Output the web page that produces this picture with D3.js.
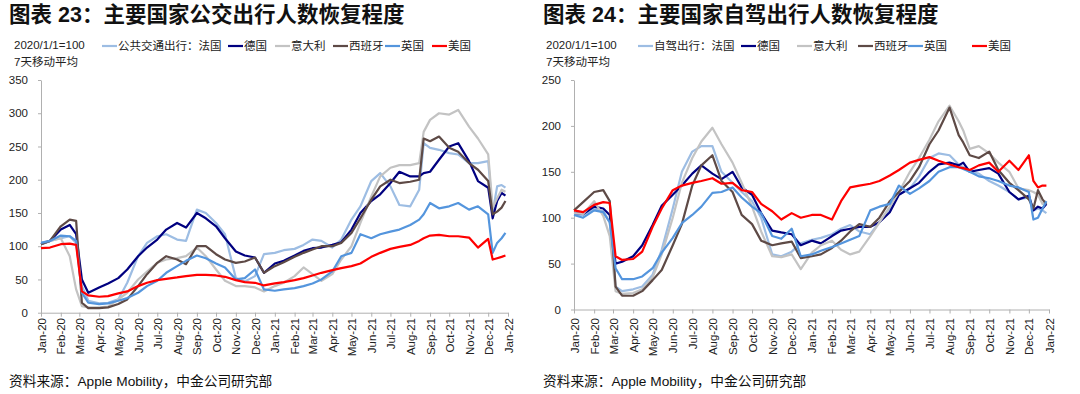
<!DOCTYPE html>
<html>
<head>
<meta charset="utf-8">
<script src="https://cdn.jsdelivr.net/npm/d3@7"></script>
<style>
body { margin: 0; background: #fff; }
svg { display: block; font-family: "Liberation Sans", Arial, "Noto Sans CJK SC", sans-serif; }
</style>
</head>
<body>
<svg></svg>
<script>
// shared sample dates (roughly twice a month)
var dates = ["2020-01-01","2020-01-15","2020-02-01","2020-02-15","2020-02-25","2020-03-05","2020-03-15",
  "2020-04-01","2020-04-15","2020-05-01","2020-05-15","2020-06-01","2020-06-15","2020-07-01","2020-07-15",
  "2020-08-01","2020-08-15","2020-09-01","2020-09-15","2020-10-01","2020-10-15","2020-11-01","2020-11-15",
  "2020-12-01","2020-12-15","2021-01-01","2021-01-15","2021-02-01","2021-02-15","2021-03-01","2021-03-15",
  "2021-04-01","2021-04-15","2021-05-01","2021-05-15","2021-06-01","2021-06-15","2021-07-01","2021-07-15",
  "2021-08-01","2021-08-15","2021-08-22","2021-09-01","2021-09-15","2021-10-01","2021-10-15","2021-11-01",
  "2021-11-15","2021-12-01","2021-12-08","2021-12-15","2021-12-22","2021-12-28"];

var countries = ["法国", "德国", "意大利", "西班牙", "英国", "美国"];
var colors = ["#9dbde3", "#000080", "#c3c3c3", "#5e4a46", "#5495dd", "#ff0000"];

// 图表23 公交出行
var busFrance  = [105,108,112,115,105,40,18,14,15,20,45,85,105,115,118,110,108,155,150,135,118,52,47,55,88,90,94,96,102,110,108,98,110,140,160,198,210,190,162,160,185,255,248,245,240,238,225,225,228,150,190,192,188];
var busGermany = [103,108,125,132,118,50,30,38,44,52,65,85,98,110,125,135,128,150,142,130,112,92,86,83,60,74,78,86,93,97,98,102,106,125,150,168,178,195,212,205,205,210,212,230,250,255,228,198,188,142,168,180,176];
var busItaly   = [103,108,112,85,35,10,8,8,9,20,30,50,62,75,80,82,85,98,85,65,48,40,40,38,32,40,45,55,68,58,48,58,80,100,135,175,205,218,222,222,225,272,290,300,298,305,280,262,238,158,172,185,182];
var busSpain   = [103,108,130,140,138,15,7,7,8,13,20,40,58,75,85,80,73,100,100,88,80,75,77,83,60,70,76,84,90,95,100,100,105,120,142,170,190,200,195,197,200,262,258,265,248,242,225,215,198,148,152,158,168];
var busUK      = [105,108,116,115,108,30,15,13,14,18,22,30,40,48,60,70,78,86,82,74,68,50,52,65,35,33,35,37,40,44,50,62,85,90,118,112,118,122,125,132,140,148,165,157,160,165,155,160,148,90,105,112,120];
var busUS      = [97,98,103,104,102,32,26,24,25,29,32,40,45,49,51,53,55,57,57,56,54,49,46,45,41,44,46,49,52,56,60,64,67,70,74,84,90,96,99,102,108,112,116,117,115,115,113,98,111,80,82,84,86];

// 图表24 自驾出行
var carFrance  = [103,103,110,107,95,25,20,22,25,38,65,110,150,172,178,178,150,138,128,118,100,60,58,63,72,76,78,82,88,92,85,82,95,110,125,132,145,165,170,168,158,155,150,148,140,135,128,120,122,108,110,108,105];
var carGermany = [105,104,112,110,103,50,52,58,70,92,113,125,135,148,157,148,142,150,133,125,105,86,84,82,70,75,72,80,86,88,90,90,95,106,125,132,138,150,158,160,157,160,150,152,154,148,128,120,124,108,112,110,115];
var carItaly   = [105,104,118,102,80,20,17,18,22,35,60,100,138,165,183,198,180,160,138,112,85,58,57,60,44,62,70,75,65,60,63,80,95,112,128,150,165,185,205,222,205,195,175,178,170,160,150,132,130,128,125,115,118];
var carSpain   = [108,117,128,130,118,25,15,15,20,32,43,70,93,135,157,168,140,128,103,93,75,70,72,74,56,58,60,67,75,85,93,90,100,118,128,140,155,180,195,220,190,182,168,165,172,152,138,130,120,110,130,120,115];
var carUK      = [103,100,108,106,95,45,33,33,36,45,62,78,94,103,112,127,128,133,122,112,105,80,77,88,58,60,64,68,72,76,80,108,112,115,135,126,132,140,150,155,155,153,150,145,143,140,135,133,128,98,100,110,118];
var carUS      = [108,106,114,117,116,58,54,55,63,90,110,130,135,138,140,143,137,138,130,128,115,107,98,105,100,103,103,98,118,133,135,137,140,146,152,160,163,166,162,158,155,154,152,157,160,150,162,152,168,140,133,135,135];

var busTicks = [0, 50, 100, 150, 200, 250, 300, 350];
var carTicks = [0, 50, 100, 150, 200, 250];

var width = 1080;
var height = 394;

var svg = d3.select("svg")
  .attr("width", width)
  .attr("height", height);

var parseDate = d3.timeParse("%Y-%m-%d");
var dateValues = dates.map(parseDate);

function drawPanel(p) {
  var g = svg.append("g");

  g.append("text")
    .attr("x", p.titleX).attr("y", 22)
    .attr("font-size", 21.5).attr("font-weight", "bold")
    .attr("fill", "#111")
    .text(p.title);

  g.append("text").attr("x", p.noteX).attr("y", 49)
    .attr("font-size", 11.5).attr("fill", "#222").text("2020/1/1=100");
  g.append("text").attr("x", p.noteX).attr("y", 66)
    .attr("font-size", 11.5).attr("fill", "#222").text("7天移动平均");

  var x = d3.scaleTime()
    .domain([new Date(2020, 0, 1), new Date(2022, 0, 1)])
    .range([p.left, p.right]);

  var y = d3.scaleLinear()
    .domain([0, d3.max(p.ticks)])
    .range([p.bottom, p.top]);

  var xAxis = g.append("g")
    .attr("transform", "translate(0," + p.bottom + ")")
    .call(d3.axisBottom(x)
      .ticks(d3.timeMonth.every(1))
      .tickFormat(d3.timeFormat("%b-%y"))
      .tickSize(4)
      .tickSizeOuter(0));

  xAxis.selectAll("text")
    .attr("transform", "rotate(-90)")
    .attr("x", -(318 - p.bottom))
    .attr("y", 0)
    .attr("dy", "0.35em")
    .attr("text-anchor", "end")
    .attr("font-size", 11.5)
    .attr("font-family", "Liberation Sans, Arial, sans-serif")
    .attr("fill", "#222");

  var yAxis = g.append("g")
    .attr("transform", "translate(" + p.left + ",0)")
    .call(d3.axisLeft(y)
      .tickValues(p.ticks)
      .tickSize(3)
      .tickPadding(10)
      .tickSizeOuter(0));

  yAxis.selectAll("text")
    .attr("font-size", 11.5)
    .attr("font-family", "Liberation Sans, Arial, sans-serif")
    .attr("fill", "#222");

  g.selectAll(".domain, .tick line").attr("stroke", "#b0b0b0");

  var line = d3.line()
    .x(function(d, i) { return x(dateValues[i]); })
    .y(function(d) { return y(d); });

  p.series.forEach(function(s, i) {
    g.append("path")
      .datum(s)
      .attr("fill", "none")
      .attr("stroke", colors[i])
      .attr("stroke-width", 2.2)
      .attr("stroke-linejoin", "round")
      .attr("d", line);
  });

  // legend
  p.legendX.forEach(function(lx, i) {
    g.append("line")
      .attr("x1", lx).attr("x2", lx + 15)
      .attr("y1", 46).attr("y2", 46)
      .attr("stroke", colors[i]).attr("stroke-width", 2.2);
    g.append("text")
      .attr("x", lx + 16).attr("y", 50)
      .attr("font-size", 11.5).attr("fill", "#222")
      .text(i == 0 ? p.firstLabel + countries[0] : countries[i]);
  });

  g.append("text")
    .attr("x", p.titleX).attr("y", 386)
    .attr("font-size", 13.7).attr("fill", "#111")
    .text("资料来源：Apple Mobility，中金公司研究部");
}

drawPanel({
  title: "图表 23：主要国家公交出行人数恢复程度",
  titleX: 9, noteX: 14,
  left: 41, right: 508, top: 80, bottom: 312.7,
  ticks: busTicks,
  series: [busFrance, busGermany, busItaly, busSpain, busUK, busUS],
  firstLabel: "公共交通出行：",
  legendX: [102, 228, 275, 333, 385, 432]
});

drawPanel({
  title: "图表 24：主要国家自驾出行人数恢复程度",
  titleX: 543, noteX: 546,
  left: 574, right: 1049, top: 80, bottom: 309.5,
  ticks: carTicks,
  series: [carFrance, carGermany, carItaly, carSpain, carUK, carUS],
  firstLabel: "自驾出行：",
  legendX: [638, 741, 797, 858, 908, 972]
});
</script>
</body>
</html>
